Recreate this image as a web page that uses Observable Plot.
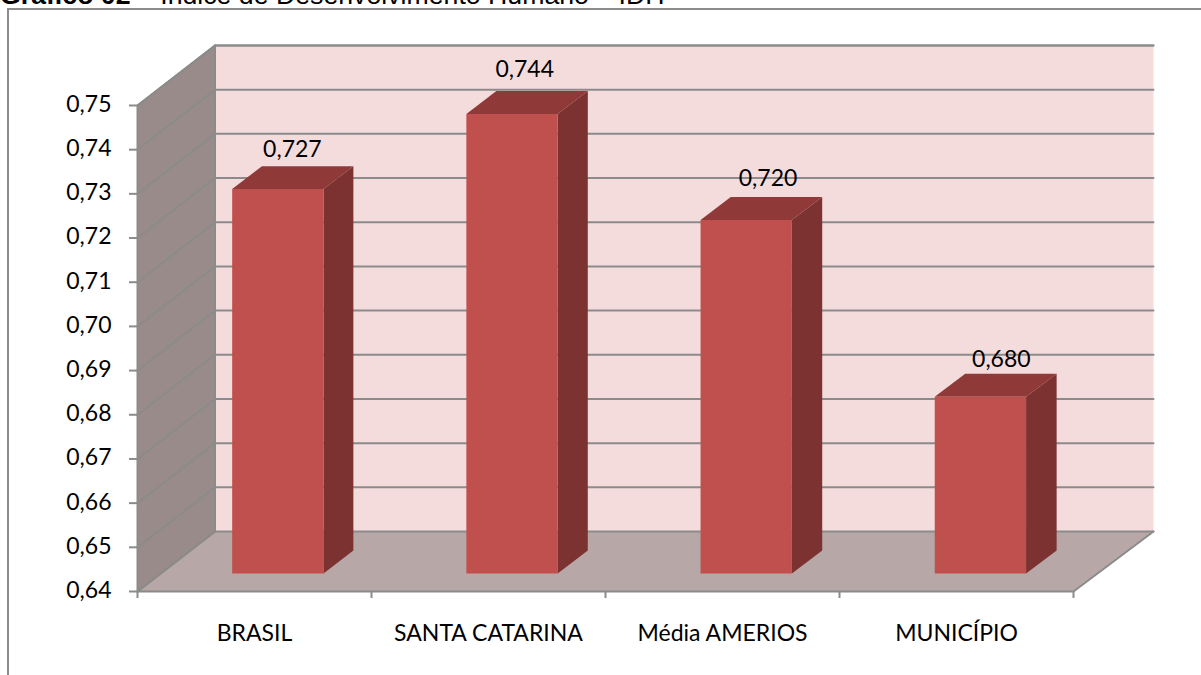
<!DOCTYPE html>
<html lang="pt">
<head>
<meta charset="utf-8">
<title>Índice de Desenvolvimento Humano</title>
<script src="https://cdn.jsdelivr.net/npm/d3@7"></script>
<script src="https://cdn.jsdelivr.net/npm/@observablehq/plot@0.6"></script>
<style>
  html, body { margin: 0; padding: 0; background: #fff; overflow: hidden; }
  #page { position: relative; width: 1201px; height: 675px; overflow: hidden; }
  #title { position: absolute; left: 0; top: -20px; font: 26.7px "Liberation Sans", Arial, sans-serif; color: #000; white-space: pre; }
  #frame { position: absolute; left: 7px; top: 8px; right: -4px; bottom: -4px; border: 2px solid #8c8c8c; }
  #chart { position: absolute; left: 0; top: 0; }
  #chart text { font-family: Lato, sans-serif; }
</style>
</head>
<body>
<div id="page">
  <div id="title"><b>Gráfico 02</b> – Índice de Desenvolvimento Humano – IDH</div>
  <div id="frame"></div>
  <div id="chart"></div>
</div>
<script>
// IDH por recorte territorial
const categories = ["BRASIL", "SANTA CATARINA", "Média AMERIOS", "MUNICÍPIO"];
const values = [0.727, 0.744, 0.72, 0.68];
const valueTicks = [0.64, 0.65, 0.66, 0.67, 0.68, 0.69, 0.7, 0.71, 0.72, 0.73, 0.74, 0.75];

// Oblique projection of the 3D box: depth d in [0, 1] shifts a point right and up.
const depthX = 0.3312;
const depthY = 0.013575;
const spread = 0.00267;
const px = (c, d) => c * (1 + spread * d) + depthX * d;
const py = (v, d) => v + depthY * d;

const floorV = valueTicks[0];
const ceilV = valueTicks[valueTicks.length - 1];
const n = categories.length;

// Bar footprint inside each category slot and inside the depth range.
const barHalf = 0.195;
const barFront = 0.3;
const barBack = 0.683;

let polyId = 0;
function face(points) {
  const id = polyId++;
  return points.map(([c, v, d]) => ({id, x: px(c, d), y: py(v, d)}));
}

const backWall = face([[0, floorV, 1], [n, floorV, 1], [n, ceilV, 1], [0, ceilV, 1]]);
const sideWall = face([[0, floorV, 0], [0, floorV, 1], [0, ceilV, 1], [0, ceilV, 0]]);
const floor = face([[0, floorV, 0], [n, floorV, 0], [n, floorV, 1], [0, floorV, 1]]);

const barFaces = {front: [], top: [], side: []};
values.forEach((v, i) => {
  const a = i + 0.5 - barHalf;
  const b = i + 0.5 + barHalf;
  const base = floorV;
  barFaces.side.push(...face([[b, base, barFront], [b, base, barBack], [b, v, barBack], [b, v, barFront]]));
  barFaces.top.push(...face([[a, v, barFront], [b, v, barFront], [b, v, barBack], [a, v, barBack]]));
  barFaces.front.push(...face([[a, base, barFront], [b, base, barFront], [b, v, barFront], [a, v, barFront]]));
});

// Gridlines fold from the front-left edge along the side wall and across the back wall.
const grid = valueTicks.flatMap(v => face([[0, v, 0], [0, v, 1], [n, v, 1]]));
const edges = [
  ...face([[0, floorV, 0], [0, ceilV, 0], [0, ceilV, 1], [n, ceilV, 1]]),
  ...face([[0, floorV, 1], [0, ceilV, 1]]),
  ...face([[0, floorV, 0], [n, floorV, 0], [n, floorV, 1]]),
  ...face([[0, floorV, 0], [0, floorV, 1]])
];

const lineColor = "#8b8b8b";
const surface = (data, fill) => Plot.line(data, {x: "x", y: "y", z: "id", fill, stroke: "none"});
const comma = v => d3.format(".2f")(v).replace(".", ",");
const labelText = v => d3.format(".3f")(v).replace(".", ",");

// Hand-placed nudges for the value labels, in pixels.
const labelNudge = [[-1, -27], [-3, -32], [6, -29], [5, -25]];

const chart = Plot.plot({
  width: 1201,
  height: 675,
  marginLeft: 137,
  marginRight: 48,
  marginTop: 45,
  marginBottom: 84,
  style: {background: "transparent", fontSize: "23px", color: "#000", overflow: "visible"},
  x: {domain: [0, px(n, 1)], range: [137, 1153]},
  y: {domain: [floorV, py(ceilV, 1)], range: [591, 45]},
  marks: [
    surface(backWall, "#f4dcdc"),
    surface(sideWall, "#998b89"),
    surface(floor, "#b8a7a7"),
    Plot.line(grid, {x: "x", y: "y", z: "id", stroke: lineColor, strokeWidth: 2}),
    Plot.line(edges, {x: "x", y: "y", z: "id", stroke: lineColor, strokeWidth: 2}),
    surface(barFaces.side, "#7b3230"),
    surface(barFaces.top, "#8f3a38"),
    surface(barFaces.front, "#c0504d"),
    values.map((v, i) => Plot.text([v], {
      x: () => px(i + 0.5, 0.5),
      y: d => py(d, 0.5),
      text: labelText,
      dx: labelNudge[i][0],
      dy: labelNudge[i][1],
      fill: "#000"
    })),
    Plot.axisY({
      ticks: valueTicks,
      tickFormat: () => "",
      anchor: "left",
      tickSize: 8,
      stroke: lineColor,
      strokeWidth: 2,
      label: null
    }),
    Plot.axisY({
      ticks: valueTicks,
      tickFormat: comma,
      anchor: "left",
      tickSize: 0,
      tickPadding: 26,
      dy: -1,
      label: null,
      fill: "#000"
    }),
    Plot.axisX({
      ticks: d3.range(n + 1),
      tickFormat: () => "",
      anchor: "bottom",
      tickSize: 7,
      stroke: lineColor,
      strokeWidth: 2,
      label: null
    }),
    Plot.axisX({
      ticks: categories.map((_, i) => i + 0.5),
      tickFormat: c => categories[Math.floor(c)],
      anchor: "bottom",
      tickSize: 0,
      tickPadding: 33,
      label: null,
      fill: "#000"
    })
  ]
});
document.getElementById("chart").append(chart);
</script>
</body>
</html>
